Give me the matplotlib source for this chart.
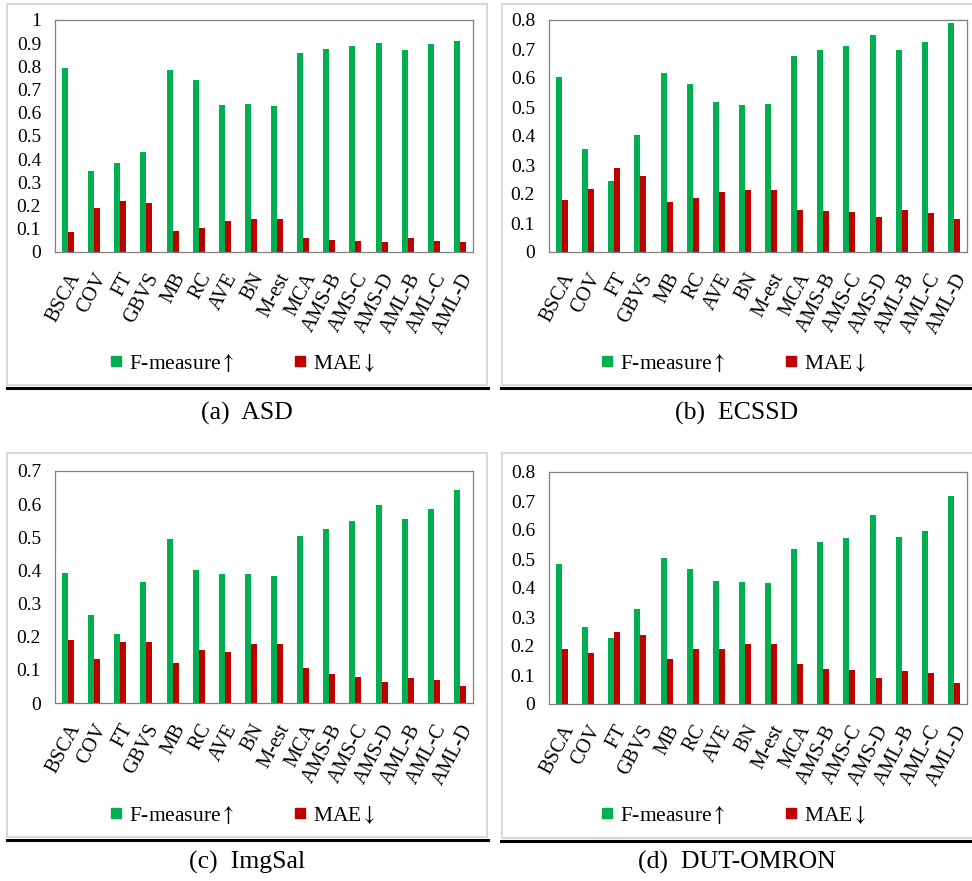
import numpy as np
import matplotlib
matplotlib.use("Agg")
import matplotlib.pyplot as plt
from matplotlib.lines import Line2D
from matplotlib.patches import Rectangle

plt.rcParams['font.family'] = ['Liberation Serif', 'DejaVu Serif']
plt.rcParams['mathtext.fontset'] = 'stix'

methods = ["BSCA", "COV", "FT", "GBVS", "MB", "RC", "AVE", "BN", "M-est", "MCA",
           "AMS-B", "AMS-C", "AMS-D", "AML-B", "AML-C", "AML-D"]

asd_f = [0.795, 0.347, 0.385, 0.432, 0.783, 0.740, 0.633, 0.637, 0.630, 0.857,
         0.875, 0.888, 0.900, 0.871, 0.895, 0.910]
asd_mae = [0.086, 0.188, 0.221, 0.212, 0.089, 0.105, 0.133, 0.142, 0.143, 0.062,
           0.053, 0.047, 0.044, 0.059, 0.047, 0.042]

ecssd_f = [0.605, 0.356, 0.245, 0.405, 0.617, 0.579, 0.517, 0.506, 0.511, 0.677,
           0.697, 0.711, 0.749, 0.696, 0.724, 0.788]
ecssd_mae = [0.181, 0.218, 0.290, 0.263, 0.173, 0.186, 0.206, 0.215, 0.215, 0.146,
             0.142, 0.138, 0.122, 0.145, 0.133, 0.114]

imgsal_f = [0.392, 0.266, 0.209, 0.365, 0.495, 0.401, 0.390, 0.388, 0.384, 0.503,
            0.525, 0.549, 0.598, 0.555, 0.586, 0.643]
imgsal_mae = [0.191, 0.134, 0.185, 0.183, 0.121, 0.161, 0.155, 0.179, 0.177, 0.106,
              0.087, 0.078, 0.062, 0.076, 0.068, 0.052]

dut_f = [0.483, 0.265, 0.227, 0.328, 0.505, 0.465, 0.424, 0.421, 0.417, 0.535,
         0.558, 0.573, 0.653, 0.576, 0.595, 0.716]
dut_mae = [0.190, 0.175, 0.247, 0.238, 0.154, 0.188, 0.188, 0.207, 0.207, 0.137,
           0.121, 0.117, 0.089, 0.113, 0.108, 0.073]

series_labels = [r"F-measure$\uparrow$", r"MAE$\downarrow$"]
captions = ["(a)  ASD", "(b)  ECSSD", "(c)  ImgSal", "(d)  DUT-OMRON"]

GREEN = "#00B050"
RED = "#C00000"

W, H = 972, 881
fig = plt.figure(figsize=(W / 100, H / 100), dpi=100)


def fx(x):
    return x / W


def fy(y):
    return 1 - y / H


panels = [
    dict(f=asd_f, m=asd_mae, ymax=1.0, ax=(55, 20, 473, 252), box=(7, 4, 487, 385),
         line=(7, 488, 388), cap=(247, 413), leg=(242, 363)),
    dict(f=ecssd_f, m=ecssd_mae, ymax=0.8, ax=(549, 20, 967, 252), box=(502, 4, 975, 385),
         line=(501, 972, 388), cap=(737, 413), leg=(733, 363)),
    dict(f=imgsal_f, m=imgsal_mae, ymax=0.7, ax=(55, 471, 473, 703), box=(7, 453, 487, 837),
         line=(7, 488, 840), cap=(247, 862), leg=(242, 815)),
    dict(f=dut_f, m=dut_mae, ymax=0.8, ax=(549, 472, 967, 704), box=(502, 453, 975, 838),
         line=(501, 972, 841), cap=(737, 862), leg=(733, 815)),
]

for p, caption in zip(panels, captions):
    bx0, by0, bx1, by1 = p["box"]
    fig.add_artist(Rectangle((fx(bx0), fy(by1)), fx(bx1 - bx0), (by1 - by0) / H,
                             transform=fig.transFigure, facecolor="white",
                             edgecolor="#D9D9D9", linewidth=1.5, zorder=0))
    lx0, lx1, ly = p["line"]
    fig.add_artist(Line2D([fx(lx0), fx(lx1)], [fy(ly), fy(ly)], transform=fig.transFigure,
                          color="black", linewidth=2.2, zorder=1))

    x0, y0, x1, y1 = p["ax"]
    ax = fig.add_axes([fx(x0), fy(y1), fx(x1 - x0), (y1 - y0) / H])
    x = np.arange(len(methods))
    w = 0.23
    ax.bar(x - w / 2, p["f"], width=w, color=GREEN, zorder=2)
    ax.bar(x + w / 2, p["m"], width=w, color=RED, zorder=2)
    ax.set_xlim(-0.5, len(methods) - 0.5)
    ax.set_ylim(0, p["ymax"])
    ticks = np.round(np.arange(0, p["ymax"] + 1e-9, 0.1), 1)
    ax.set_yticks(ticks)
    ax.set_yticklabels([f"{t:g}" for t in ticks], fontsize=14)
    ax.set_xticks(x)
    ax.set_xticklabels(methods, rotation=62, ha="right", rotation_mode="anchor",
                       fontsize=14.5)
    ax.tick_params(axis="y", length=0, pad=10)
    ax.tick_params(axis="x", length=0, pad=13)
    for s in ax.spines.values():
        s.set_color("#808080")
        s.set_linewidth(0.9)

    handles = [Line2D([], [], marker="s", linestyle="none", color=GREEN, markersize=6.5),
               Line2D([], [], marker="s", linestyle="none", color=RED, markersize=6.5)]
    cx, cy = p["leg"]
    fig.legend(handles, series_labels, loc="center", bbox_to_anchor=(fx(cx), fy(cy)),
               bbox_transform=fig.transFigure, ncol=2, frameon=False, fontsize=15.5,
               columnspacing=2.7, handletextpad=0.25, handlelength=0.7)

    ccx, ccy = p["cap"]
    fig.text(fx(ccx), fy(ccy), caption, ha="center", va="center", fontsize=18.5)

fig.savefig("out.png", dpi=100)
